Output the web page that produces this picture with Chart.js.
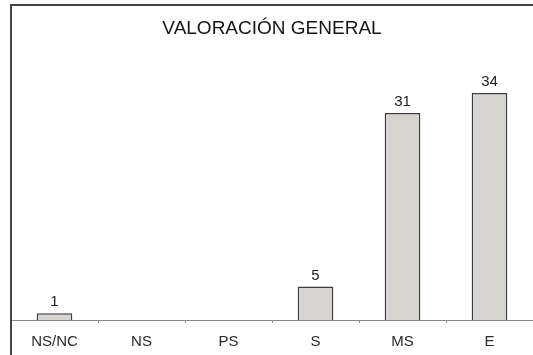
<!DOCTYPE html>
<html>
<head>
<meta charset="utf-8">
<script src="https://cdn.jsdelivr.net/npm/chart.js@4/dist/chart.umd.min.js"></script>
<style>
  html, body { margin: 0; padding: 0; background: #fff; }
  #wrap { position: relative; width: 533px; height: 355px; }
  #frame {
    position: absolute; left: 10px; top: 4px; right: 0; bottom: 0;
    border-top: 2px solid #444; border-left: 2px solid #444;
    pointer-events: none;
  }
</style>
</head>
<body>
<div id="wrap">
  <canvas id="c" width="533" height="355"></canvas>
  <div id="frame"></div>
</div>
<script>
const categories = ["NS/NC", "NS", "PS", "S", "MS", "E"];
const counts = [1, 0, 0, 5, 31, 34];
const chartTitle = "VALORACIÓN GENERAL";

const FONT = "'Liberation Sans', Arial, sans-serif";

// Writes the count above each non-empty bar
const valueLabels = {
  id: "valueLabels",
  afterDatasetsDraw(chart) {
    const ctx = chart.ctx;
    const meta = chart.getDatasetMeta(0);
    ctx.save();
    ctx.font = "15px " + FONT;
    ctx.fillStyle = "#222";
    ctx.textAlign = "center";
    ctx.textBaseline = "alphabetic";
    meta.data.forEach((bar, i) => {
      const v = counts[i];
      if (!v) return;
      ctx.fillText(String(v), bar.x, bar.y - 7);
    });
    ctx.restore();
  }
};

new Chart(document.getElementById("c"), {
  type: "bar",
  data: {
    labels: categories,
    datasets: [{
      data: counts,
      backgroundColor: "#d7d3cf",
      borderColor: "#3c3c3c",
      borderWidth: 1.5,
      barPercentage: 0.41,
      categoryPercentage: 1
    }]
  },
  options: {
    responsive: false,
    animation: false,
    layout: { padding: { left: 11, right: 0, top: 0, bottom: 0 } },
    plugins: {
      legend: { display: false },
      tooltip: { enabled: false },
      title: {
        display: true,
        text: chartTitle,
        color: "#151515",
        font: { family: FONT, size: 19, weight: "normal" },
        padding: { top: 17, bottom: 13 }
      }
    },
    scales: {
      x: {
        offset: true,
        grid: {
          offset: true,
          drawOnChartArea: false,
          drawTicks: true,
          tickLength: 3,
          color: "#8a8a8a"
        },
        border: { display: true, color: "#8a8a8a", width: 1 },
        ticks: {
          color: "#2a2a2a",
          padding: 10,
          font: { family: FONT, size: 15 }
        },
        afterFit(scale) { scale.height = 35; }
      },
      y: {
        display: false,
        min: 0,
        max: 40
      }
    }
  },
  plugins: [valueLabels]
});
</script>
</body>
</html>
